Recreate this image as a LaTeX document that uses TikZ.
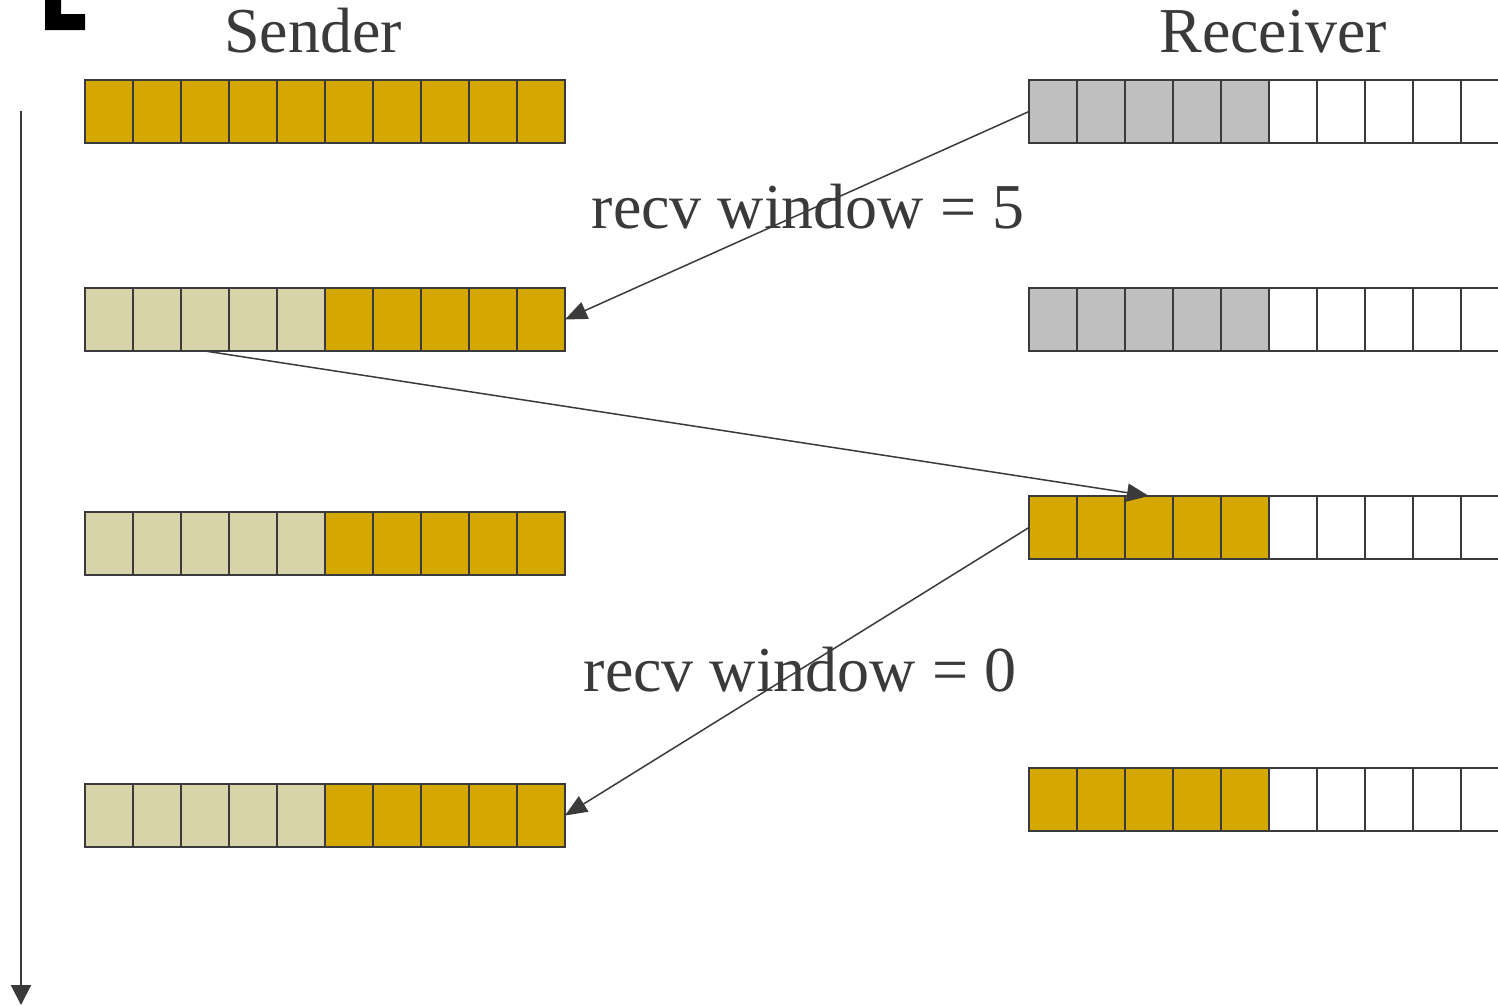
\documentclass[tikz,border=0pt]{standalone}
\usepackage{fontspec}
\setmainfont{Liberation Serif}
\usetikzlibrary{arrows.meta}
\definecolor{gold}{HTML}{D4A800}
\definecolor{pale}{HTML}{D6D4A8}
\definecolor{grayc}{HTML}{BFBFBF}
\definecolor{ink}{HTML}{3A3A3A}
\tikzset{
  cell/.style={draw=ink, line width=2pt, minimum width=48pt, minimum height=63pt, inner sep=0pt, outer sep=0pt},
  conn/.style={draw=ink, line width=1.5pt, -{Triangle[length=22pt,width=18pt]}},
  lbl/.style={text=ink, font=\fontsize{64}{70}\selectfont, anchor=base, inner sep=0pt},
}
\begin{document}
\begin{tikzpicture}[x=1pt,y=-1pt]
\useasboundingbox (0,0) rectangle (1498,1005);
\clip (0,0) rectangle (1498,1005);
% black mark
\fill[black] (45,0) -- (61,0) -- (61,14) -- (85,14) -- (85,30) -- (45,30) -- cycle;
% sender rows
\foreach \i in {1,...,10} {
  \node[cell, fill=gold] (s1-\i) at ({109+48*(\i-1)},111.5) {};
}
\foreach \r/\y in {2/319.5,3/543.5,4/815.5} {
  \foreach \i in {1,...,10} {
    \ifnum\i<6 \def\cf{pale}\else\def\cf{gold}\fi
    \node[cell, fill=\cf] (s\r-\i) at ({109+48*(\i-1)},\y) {};
  }
}
% receiver rows
\foreach \r/\y/\c in {1/111.5/grayc,2/319.5/grayc,3/527.5/gold,4/799.5/gold} {
  \foreach \i in {1,...,10} {
    \ifnum\i<6 \def\cf{\c}\else\def\cf{white}\fi
    \node[cell, fill=\cf] (r\r-\i) at ({1053+48*(\i-1)},\y) {};
  }
}
% labels
\node[lbl] (snd) at (313,52) {Sender};
\node[lbl] (rcv) at (1273,52) {Receiver};
\node[lbl] (w5) at (808,228) {recv window = 5};
\node[lbl] (w0) at (800,691) {recv window = 0};
% connectors
\draw[conn] (r1-1.west) -- (s2-10.east);
\draw[conn] (s2-3.south) -- (r3-3.north);
\draw[conn] (r3-1.west) -- (s4-10.east);
% time axis
\coordinate (t0) at (21,111);
\coordinate (t1) at (21,1005);
\draw[draw=ink, line width=2pt, -{Triangle[length=20pt,width=20pt]}] (t0) -- (t1);
\end{tikzpicture}
\end{document}
